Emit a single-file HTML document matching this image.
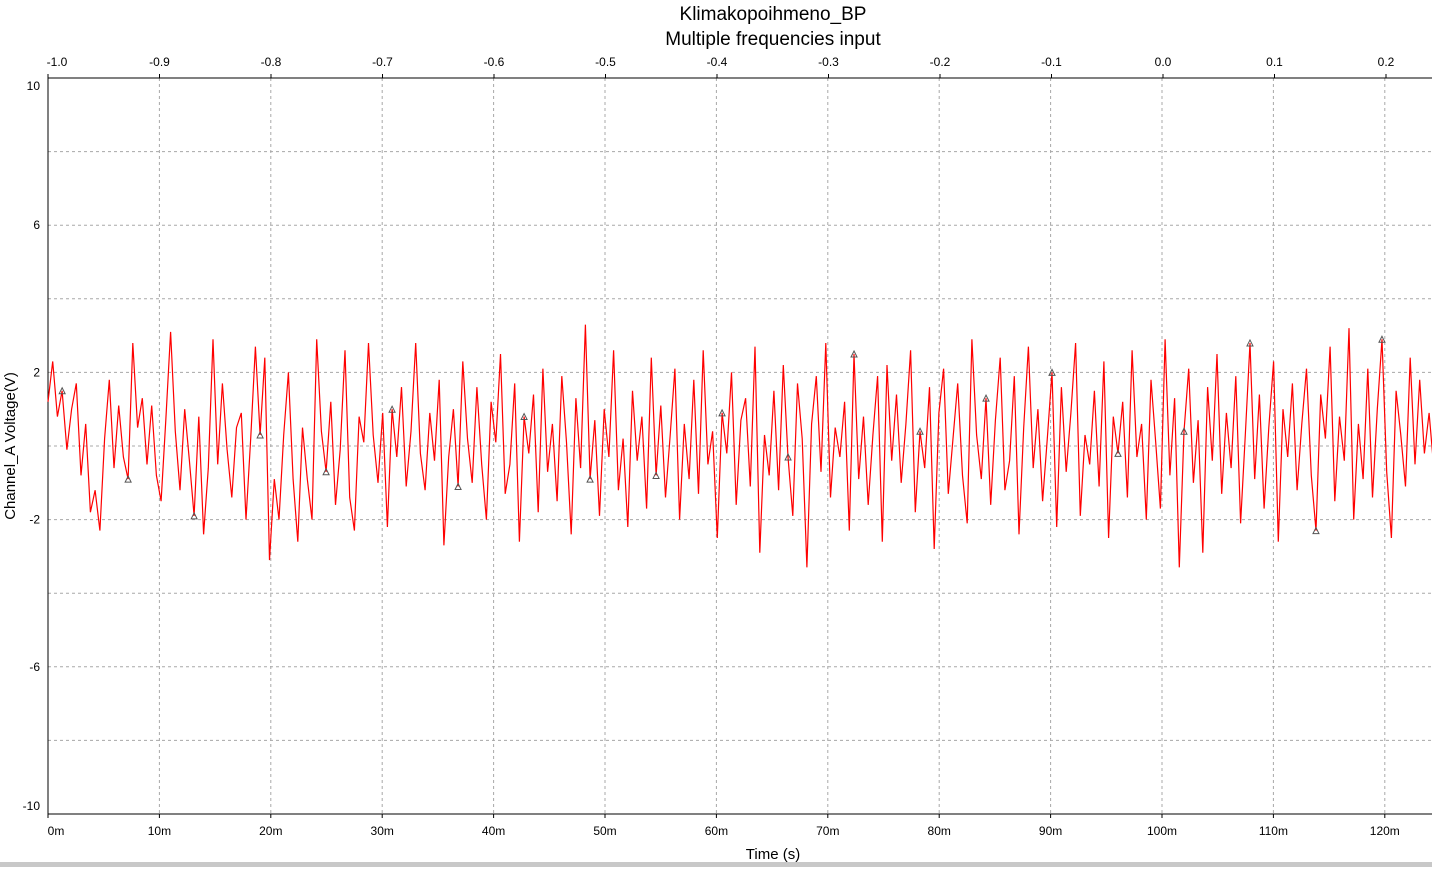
<!DOCTYPE html>
<html><head><meta charset="utf-8"><style>
body{margin:0;background:#fff;font-family:"Liberation Sans",sans-serif;}
svg text{font-family:"Liberation Sans",sans-serif;}
</style></head><body>
<svg id="chart" width="1432" height="867">
<text x="773" y="20" text-anchor="middle" font-size="19">Klimakopoihmeno_BP</text>
<text x="773" y="45" text-anchor="middle" font-size="19">Multiple frequencies input</text>
<text x="773" y="859" text-anchor="middle" font-size="15">Time (s)</text>
<text transform="translate(15,446) rotate(-90)" text-anchor="middle" font-size="15">Channel_A Voltage(V)</text>
<rect x="0" y="862" width="1432" height="5" fill="#c8c8c8"/>
<g id="grid"></g><g id="axes"></g><g id="series"></g>
</svg>
<script>
const xTicks=[0,10,20,30,40,50,60,70,80,90,100,110,120];
const topTicks=[-1.0,-0.9,-0.8,-0.7,-0.6,-0.5,-0.4,-0.3,-0.2,-0.1,0.0,0.1,0.2];
const yGrid=[-10,-8,-6,-4,-2,0,2,4,6,8,10];
const yLabels=[-10,-6,-2,2,6,10];
const tEnd=124.4;
const volts=[1.2,2.3,0.8,1.5,-0.1,1.0,1.7,-0.8,0.6,-1.8,-1.2,-2.3,0.2,1.8,-0.6,1.1,-0.3,-0.9,2.8,0.5,1.3,-0.5,1.1,-0.8,-1.5,0.7,3.1,0.4,-1.2,1.0,-0.4,-1.9,0.8,-2.4,-0.6,2.9,-0.5,1.7,-0.1,-1.4,0.5,0.9,-2.0,0.2,2.7,0.3,2.4,-3.1,-0.9,-2.0,0.3,2.0,-0.9,-2.6,0.5,-0.9,-2.0,2.9,0.4,-0.7,1.2,-1.6,-0.1,2.6,-1.4,-2.3,0.8,0.1,2.8,0.3,-1.0,0.9,-2.2,1.0,-0.3,1.6,-1.1,0.4,2.8,-0.2,-1.2,0.9,-0.4,1.8,-2.7,-0.3,1.0,-1.1,2.3,0.2,-1.0,1.6,-0.5,-2.0,1.2,0.1,2.5,-1.3,-0.5,1.7,-2.6,0.8,-0.2,1.4,-1.8,2.1,-0.7,0.6,-1.5,1.9,0.1,-2.4,1.3,-0.6,3.3,-0.9,0.7,-1.9,1.0,-0.3,2.6,-1.2,0.2,-2.2,1.5,-0.4,0.8,-1.7,2.4,-0.8,1.1,-1.4,0.3,2.1,-2.0,0.6,-0.9,1.8,-1.3,2.6,-0.5,0.4,-2.5,0.9,-0.2,2.0,-1.6,0.7,1.3,-1.1,2.7,-2.9,0.3,-0.8,1.5,-1.2,2.2,-0.3,-1.9,1.7,0.2,-3.3,0.6,1.9,-0.7,2.8,-1.4,0.5,-0.3,1.2,-2.3,2.5,-0.9,0.8,-1.6,0.3,1.9,-2.6,2.2,-0.4,1.4,-1.0,0.6,2.6,-1.8,0.4,-0.6,1.6,-2.8,0.9,2.1,-1.3,0.2,1.7,-0.8,-2.1,2.9,0.3,-0.9,1.3,-1.6,0.7,2.4,-1.2,-0.4,1.9,-2.4,0.5,2.7,-0.6,1.0,-1.5,0.2,2.0,-2.2,1.6,-0.7,0.9,2.8,-1.9,0.3,-0.5,1.5,-1.1,2.3,-2.5,0.8,-0.2,1.2,-1.4,2.6,-0.3,0.6,-2.0,1.8,0.1,-1.7,2.9,-0.8,1.3,-3.3,0.4,2.1,-1.0,0.7,-2.9,1.6,-0.4,2.5,-1.3,0.9,-0.6,1.9,-2.1,0.3,2.8,-0.9,1.4,-1.7,0.5,2.3,-2.6,1.0,-0.3,1.7,-1.2,0.6,2.1,-0.8,-2.3,1.4,0.2,2.7,-1.5,0.8,-0.4,3.2,-2.0,0.6,-0.9,2.1,-1.4,1.0,2.9,-0.7,-2.5,1.5,0.3,-1.1,2.4,-0.5,1.8,-0.2,0.9,-0.6];
const svg=document.getElementById('chart');
const NS='http://www.w3.org/2000/svg';
const L=48,R=1432,T=78,B=814;
const xs=ms=>L+(ms)*11.14;
const xt=v=>L+(v+1.0)*1115;
const ys=v=>446-v*36.8;
const dt=tEnd/(volts.length-1);
function mk(tag,attrs,parent){const e=document.createElementNS(NS,tag);for(const k in attrs)e.setAttribute(k,attrs[k]);parent.appendChild(e);return e;}
const grid=document.getElementById('grid'),axes=document.getElementById('axes'),series=document.getElementById('series');
yGrid.forEach(v=>{if(v===10||v===-10)return;const l=mk('line',{x1:L,x2:R,y1:ys(v),y2:ys(v),stroke:'#a8a8a8','stroke-dasharray':'3,3'},grid);

});
xTicks.forEach(v=>{if(v===0)return;const l=mk('line',{x1:xs(v),x2:xs(v),y1:T,y2:B,stroke:'#a8a8a8','stroke-dasharray':'3,3'},grid);

});
let a=mk('line',{x1:L,x2:R,y1:T,y2:T,stroke:'#000'},axes);


a=mk('line',{x1:L,x2:R,y1:B,y2:B,stroke:'#000'},axes);


a=mk('line',{x1:L,x2:L,y1:T,y2:B,stroke:'#000'},axes);


xTicks.forEach(v=>{const t=mk('text',{x:xs(v)+(v===0?8:0),y:835,'text-anchor':'middle','font-size':12},axes);t.textContent=v+'m';


mk('line',{x1:xs(v),x2:xs(v),y1:B,y2:B+4,stroke:'#000'},axes);});
topTicks.forEach(v=>{const t=mk('text',{x:xt(v)+(v===-1?9:0),y:66,'text-anchor':'middle','font-size':12},axes);t.textContent=v.toFixed(1);


mk('line',{x1:xt(v),x2:xt(v),y1:T,y2:T-4,stroke:'#000'},axes);});
yLabels.forEach(v=>{const t=mk('text',{x:40,y:ys(v)+(v===10?12:v===-10?-4:4),'text-anchor':'end','font-size':12},axes);t.textContent=v;

});
let d='';volts.forEach((v,i)=>{d+=(i?'L':'M')+xs(i*dt).toFixed(1)+','+ys(v).toFixed(1);});
const p=mk('path',{d:d,fill:'none',stroke:'#ff0000','stroke-width':1.2},series);


volts.forEach((v,i)=>{if(i%14!==3)return;const x=xs(i*dt),y=ys(v);const m=mk('path',{d:`M${x-3},${y+3}L${x},${y-3}L${x+3},${y+3}Z`,fill:'none',stroke:'#555'},series);

});
</script>
</body></html>
